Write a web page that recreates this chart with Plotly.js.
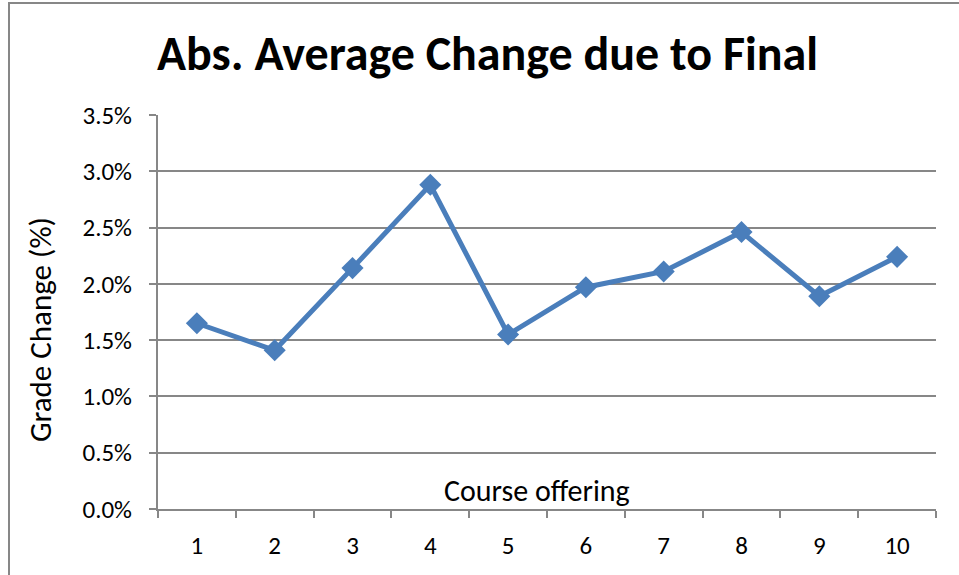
<!DOCTYPE html>
<html>
<head>
<meta charset="utf-8">
<script src="https://cdn.plot.ly/plotly-3.0.1.min.js"></script>
<style>
html,body{margin:0;padding:0;background:#fff;}
#chart{width:959px;height:575px;}
</style>
</head>
<body>
<div id="chart"></div>
<script>
var categories = ["1","2","3","4","5","6","7","8","9","10"];
var gradeChange = [1.65, 1.41, 2.14, 2.88, 1.55, 1.97, 2.11, 2.46, 1.89, 2.24];
var yTickVals = [0, 0.5, 1.0, 1.5, 2.0, 2.5, 3.0, 3.5];
var yTickText = ["0.0%","0.5%","1.0%","1.5%","2.0%","2.5%","3.0%","3.5%"];

var FONT = "Carlito, Calibri, Lato, 'Open Sans', sans-serif";
var GRID = "#878787";

var trace = {
  x: categories,
  y: gradeChange,
  type: "scatter",
  mode: "lines+markers",
  line: {color: "#4a7ebb", width: 5},
  marker: {symbol: "diamond", size: 17, color: "#4a7ebb"},
  hoverinfo: "x+y"
};

var layout = {
  width: 959,
  height: 575,
  margin: {l: 158, r: 23, t: 115, b: 66},
  paper_bgcolor: "#ffffff",
  plot_bgcolor: "#ffffff",
  showlegend: false,
  font: {family: FONT, color: "#000"},
  title: {
    text: "<b>Abs. Average Change due to Final</b>",
    font: {family: FONT, size: 48, color: "#000"},
    x: 0.4235, xref: "paper", xanchor: "center",
    y: 0.908, yref: "container", yanchor: "middle"
  },
  xaxis: {
    type: "category",
    range: [-0.5, 9.5],
    autorange: false,
    tickson: "boundaries",
    ticks: "outside",
    ticklen: 7,
    tickwidth: 2,
    tickcolor: GRID,
    showline: true,
    linecolor: GRID,
    linewidth: 2,
    showgrid: false,
    zeroline: false,
    tickfont: {family: FONT, size: 25, color: "#000"},
    ticklabelstandoff: 13,
    fixedrange: true
  },
  yaxis: {
    range: [0, 3.5],
    autorange: false,
    tickvals: yTickVals,
    ticktext: yTickText,
    ticks: "outside",
    ticklen: 7,
    tickwidth: 2,
    tickcolor: GRID,
    showline: true,
    linecolor: GRID,
    linewidth: 2,
    showgrid: true,
    gridcolor: GRID,
    gridwidth: 2,
    zeroline: false,
    tickfont: {family: FONT, size: 25, color: "#000"},
    ticklabelstandoff: 12,
    fixedrange: true
  },
  annotations: [{
    text: "Course offering",
    xref: "paper", yref: "paper",
    x: 0.487, y: 0.048,
    xanchor: "center", yanchor: "middle",
    showarrow: false,
    font: {family: FONT, size: 30, color: "#000"}
  }, {
    text: "Grade Change (%)",
    xref: "paper", yref: "paper",
    x: (40 - 158) / 778, y: (509 - 330) / 394,
    xanchor: "center", yanchor: "middle",
    textangle: -90,
    showarrow: false,
    font: {family: FONT, size: 31, color: "#000"}
  }],
  shapes: [{
    type: "rect",
    xref: "paper", yref: "paper",
    x0: (9 - 158) / 778, x1: 1.2,
    y0: -0.5, y1: (509 - 3) / 394,
    line: {color: "#878787", width: 2},
    fillcolor: "rgba(0,0,0,0)",
    layer: "below"
  }]
};

Plotly.newPlot("chart", [trace], layout, {displayModeBar: false, staticPlot: true});
</script>
</body>
</html>
